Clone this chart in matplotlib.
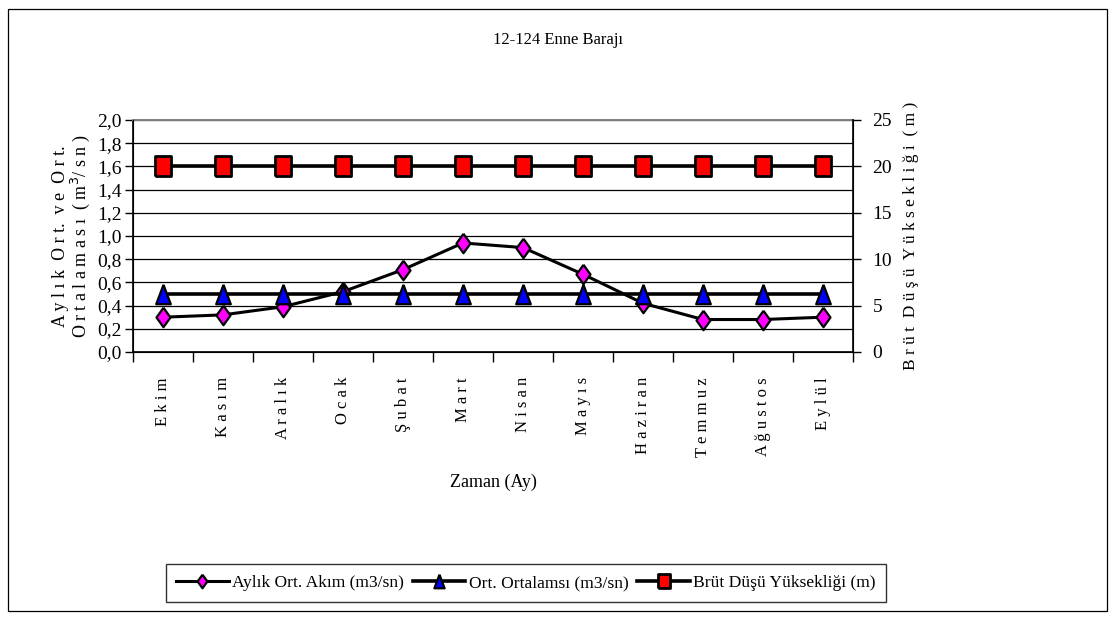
import matplotlib
matplotlib.use("Agg")
import matplotlib.pyplot as plt
from matplotlib.patches import Rectangle
from matplotlib.ticker import FixedLocator, MultipleLocator, FuncFormatter

plt.rcParams['font.family'] = ['Liberation Serif', 'DejaVu Serif']

months = ["Ekim", "Kasım", "Aralık", "Ocak", "Şubat", "Mart", "Nisan",
          "Mayıs", "Haziran", "Temmuz", "Ağustos", "Eylül"]
aylik_akim = [0.30, 0.32, 0.39, 0.52, 0.71, 0.94, 0.90, 0.67, 0.42, 0.28, 0.28, 0.30]
ort_ortalamasi = [0.50] * 12
brut_dusu = [20] * 12

title = "12-124 Enne Barajı"
legend_labels = ["Aylık Ort. Akım (m3/sn)", "Ort. Ortalamsı (m3/sn)", "Brüt Düşü Yüksekliği (m)"]


def spaced(s):
    return " ".join(list(s))


fig = plt.figure(figsize=(11.17, 6.21), dpi=100)
fig.patches.append(Rectangle((8 / 1117, 10 / 621), 1099 / 1117, 602 / 621,
                             transform=fig.transFigure, fill=False,
                             edgecolor='black', linewidth=0.9))

ax = fig.add_axes([133 / 1117, 269 / 621, 720 / 1117, 232 / 621])
ax2 = ax.twinx()

x = list(range(len(months)))
diamond = [(0, 1), (0.72, 0), (0, -1), (-0.72, 0), (0, 1)]
triangle = [(0, 1), (0.75, -1), (-0.75, -1), (0, 1)]
rect = [(-0.78, -1), (0.78, -1), (0.78, 1), (-0.78, 1), (-0.78, -1)]

ax.plot(x, aylik_akim, color='black', lw=2.2, marker=diamond, ms=14,
        mfc='#FF00FF', mec='black', mew=1.6, zorder=3, label=legend_labels[0])
ax.plot(x, ort_ortalamasi, color='black', lw=2.6, marker=triangle, ms=14,
        mfc='#0000FF', mec='black', mew=1.6, zorder=4, label=legend_labels[1])
ax2.plot(x, brut_dusu, color='black', lw=2.6, marker=rect, ms=15,
         mfc='#FF0000', mec='black', mew=2.0, zorder=5, label=legend_labels[2])

ax.set_xlim(-0.5, len(months) - 0.5)
ax.set_ylim(0, 2.0)
ax2.set_ylim(0, 25)

ax.yaxis.set_major_locator(MultipleLocator(0.2))
ax.yaxis.set_major_formatter(FuncFormatter(lambda v, p: f"{v:.1f}".replace('.', ',')))
ax2.yaxis.set_major_locator(MultipleLocator(5))

ax.set_xticks([i - 0.5 for i in range(len(months) + 1)])
ax.set_xticklabels([])
ax.xaxis.set_minor_locator(FixedLocator(x))
ax.set_xticklabels([spaced(m) for m in months], minor=True, rotation=90,
                   va='top', ha='center', fontsize=12)
ax.tick_params(axis='x', which='major', direction='out', length=7, width=1)
ax.tick_params(axis='x', which='minor', length=0, pad=18)

ax.tick_params(axis='y', direction='out', length=6, width=1, labelsize=14, pad=2)
ax2.tick_params(axis='y', direction='out', length=6, width=1, labelsize=14, pad=8)

ax.grid(axis='y', color='black', lw=0.9)
ax.set_axisbelow(True)
for sp in ['left', 'bottom']:
    ax.spines[sp].set_linewidth(1.2)
ax.spines['top'].set_color('#808080')
ax.spines['top'].set_linewidth(1.4)
ax2.spines['right'].set_linewidth(1.2)
ax2.spines['top'].set_visible(False)

ax.set_xlabel("Zaman (Ay)", fontsize=13, labelpad=12)
ax.set_ylabel("A y l ı k  O r t.  v e  O r t.\nO r t a l a m a s ı  ( m$^{3}$/ s n )",
              fontsize=13, linespacing=0.95, labelpad=4)
ax2.set_ylabel("B r ü t  D ü ş ü  Y ü k s e k l i ğ i  ( m )", fontsize=12.5, labelpad=8)

fig.text(0.4996, 1 - 40 / 621, title, ha='center', va='center', fontsize=12)

h1, l1 = ax.get_legend_handles_labels()
h2, l2 = ax2.get_legend_handles_labels()
leg = fig.legend(h1 + h2, l1 + l2, loc='center', bbox_to_anchor=(526 / 1117, 1 - 583 / 621),
                 ncol=3, frameon=True, fancybox=False, edgecolor='black', fontsize=12.6,
                 handlelength=3.0, handletextpad=0.2, columnspacing=0.5,
                 markerscale=0.7, borderpad=0.6)
leg.get_frame().set_linewidth(1.0)

fig.savefig("out.png", dpi=100)
